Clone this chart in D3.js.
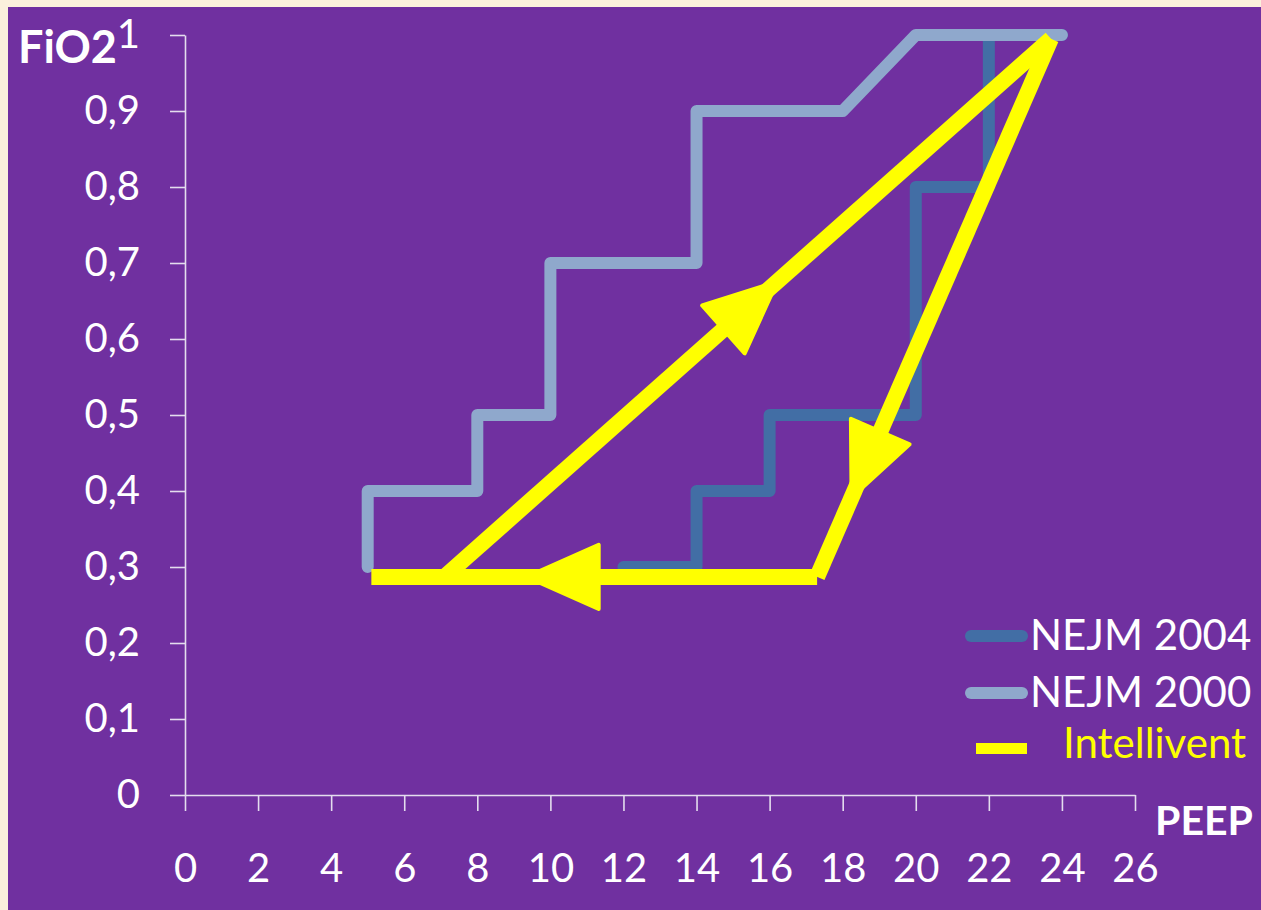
<!DOCTYPE html>
<html>
<head>
<meta charset="utf-8">
<script src="https://cdn.jsdelivr.net/npm/d3@7"></script>
<style>
  html, body { margin: 0; padding: 0; background: #FBF1DC; }
  svg { display: block; }
  text { font-family: Lato, "Open Sans", sans-serif; }
</style>
</head>
<body>
<svg id="chart" width="1261" height="910"></svg>
<script>
// PEEP / FiO2 combination tables
const peep2004 = [12, 14, 14, 16, 16, 20, 20, 22, 22, 24];
const fio2_2004 = [0.3, 0.3, 0.4, 0.4, 0.5, 0.5, 0.8, 0.8, 1.0, 1.0];

const peep2000 = [5, 5, 8, 8, 10, 10, 14, 14, 18, 20, 24];
const fio2_2000 = [0.3, 0.4, 0.4, 0.5, 0.5, 0.7, 0.7, 0.9, 0.9, 1.0, 1.0];

// Intellivent cycle: up the diagonal, down the steep leg, back along the floor
const peepIntellivent = [7.1, 23.7, 17.3, 5.1];
const fio2Intellivent = [0.287, 0.995, 0.287, 0.287];

const xTicks = [0, 2, 4, 6, 8, 10, 12, 14, 16, 18, 20, 22, 24, 26];
const yTicks = [0, 0.1, 0.2, 0.3, 0.4, 0.5, 0.6, 0.7, 0.8, 0.9, 1];

const seriesNames = ["NEJM 2004", "NEJM 2000", "Intellivent"];

const colors = {
  bg: "#7030A0",
  axis: "#E4DDEE",
  dark: "#426EA5",
  light: "#8FA8CC",
  yellow: "#FFFF00"
};

const svg = d3.select("#chart");

svg.append("rect")
  .attr("x", 8).attr("y", 7)
  .attr("width", 1261 - 8).attr("height", 910 - 7)
  .attr("fill", colors.bg);

const x = d3.scaleLinear().domain([0, 26]).range([185, 1135]);
const y = d3.scaleLinear().domain([0, 1]).range([795, 35]);

const comma = v => d3.format("~g")(v).replace(".", ",");

// Axes
const yAxis = svg.append("g")
  .attr("transform", `translate(${x(0)},0)`)
  .call(d3.axisLeft(y).tickValues(yTicks).tickSize(15).tickSizeOuter(0)
    .tickPadding(30).tickFormat(comma));

const xAxis = svg.append("g")
  .attr("transform", `translate(0,${y(0)})`)
  .call(d3.axisBottom(x).tickValues(xTicks).tickSize(16).tickSizeOuter(0)
    .tickPadding(43).tickFormat(d => String(d)));

[yAxis, xAxis].forEach(g => {
  g.select(".domain").attr("stroke", colors.axis).attr("stroke-width", 1.6);
  g.selectAll(".tick line").attr("stroke", colors.axis).attr("stroke-width", 1.6);
  g.selectAll(".tick text")
    .attr("fill", "#FFFFFF")
    .style("font-family", "Lato, 'Open Sans', sans-serif")
    .style("font-size", "40px");
});

// Axis titles
svg.append("text")
  .attr("x", 18).attr("y", 63)
  .attr("fill", "#FFFFFF")
  .style("font-size", "45px").style("font-weight", "bold")
  .text("FiO2");

svg.append("text")
  .attr("x", 1155).attr("y", 835)
  .attr("fill", "#FFFFFF")
  .style("font-size", "41px").style("font-weight", "bold")
  .text("PEEP");

// Step lines
const line = d3.line().x(d => x(d[0])).y(d => y(d[1]));

svg.append("path")
  .datum(d3.zip(peep2004, fio2_2004))
  .attr("d", line)
  .attr("fill", "none")
  .attr("stroke", colors.dark)
  .attr("stroke-width", 12)
  .attr("stroke-linejoin", "round")
  .attr("stroke-linecap", "round");

svg.append("path")
  .datum(d3.zip(peep2000, fio2_2000))
  .attr("d", line)
  .attr("fill", "none")
  .attr("stroke", colors.light)
  .attr("stroke-width", 12)
  .attr("stroke-linejoin", "round")
  .attr("stroke-linecap", "round");

// Intellivent legs, each with an arrowhead partway along it
const pts = d3.zip(peepIntellivent, fio2Intellivent);
const legs = d3.range(pts.length - 1).map(i => [pts[i], pts[i + 1]]);
const arrowAt = [0.46, 0.73, 0.49];
const headLen = 72, headHalf = 32;

const gI = svg.append("g");
legs.forEach((leg, i) => {
  const [p0, p1] = leg;
  const x0 = x(p0[0]), y0 = y(p0[1]), x1 = x(p1[0]), y1 = y(p1[1]);
  gI.append("line")
    .attr("x1", x0).attr("y1", y0).attr("x2", x1).attr("y2", y1)
    .attr("stroke", colors.yellow)
    .attr("stroke-width", 16)
    .attr("stroke-linecap", "butt");

  const dx = x1 - x0, dy = y1 - y0, len = Math.hypot(dx, dy);
  const ux = dx / len, uy = dy / len;
  const bx = x0 + dx * arrowAt[i], by = y0 + dy * arrowAt[i];
  const tip = [bx + ux * headLen, by + uy * headLen];
  const c1 = [bx - uy * headHalf, by + ux * headHalf];
  const c2 = [bx + uy * headHalf, by - ux * headHalf];
  gI.append("path")
    .attr("d", `M${tip}L${c1}L${c2}Z`)
    .attr("fill", colors.yellow)
    .attr("stroke", colors.yellow)
    .attr("stroke-width", 4)
    .attr("stroke-linejoin", "round");
});

// Legend
const legend = svg.append("g");
const legendRows = [
  { name: seriesNames[0], color: colors.dark, y: 636, textY: 650, textX: 1030, kind: "round" },
  { name: seriesNames[1], color: colors.light, y: 693, textY: 707, textX: 1030, kind: "round" },
  { name: seriesNames[2], color: colors.yellow, y: 748.5, textY: 758, textX: 1063, kind: "bar" }
];
legendRows.forEach(r => {
  if (r.kind === "round") {
    legend.append("line")
      .attr("x1", 971).attr("x2", 1022).attr("y1", r.y).attr("y2", r.y)
      .attr("stroke", r.color).attr("stroke-width", 12).attr("stroke-linecap", "round");
  } else {
    legend.append("line")
      .attr("x1", 976).attr("x2", 1027).attr("y1", r.y).attr("y2", r.y)
      .attr("stroke", r.color).attr("stroke-width", 11).attr("stroke-linecap", "butt");
  }
  legend.append("text")
    .attr("x", r.textX).attr("y", r.textY)
    .attr("fill", r.kind === "bar" ? colors.yellow : "#FFFFFF")
    .style("font-size", "42px")
    .text(r.name);
});
</script>
</body>
</html>
